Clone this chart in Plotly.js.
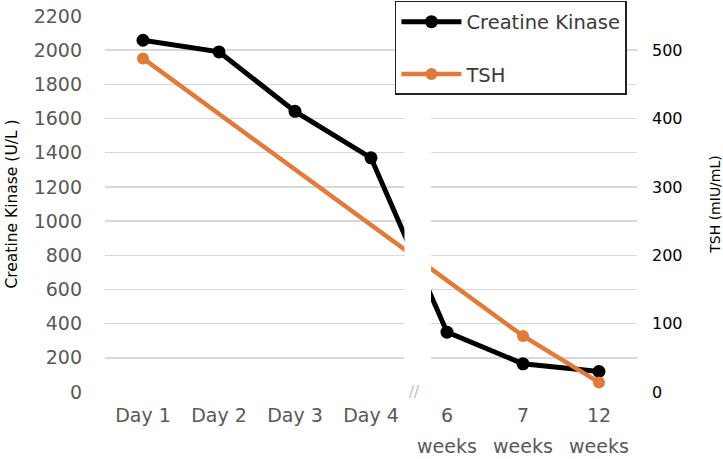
<!DOCTYPE html>
<html>
<head>
<meta charset="utf-8">
<script src="https://cdn.plot.ly/plotly-3.0.1.min.js"></script>
<style>
  html, body { margin: 0; padding: 0; background: #ffffff; }
  #chart { width: 723px; height: 459px; }
</style>
</head>
<body>
<div id="chart"></div>
<script>
// ---- data ----
const categories = ["Day 1", "Day 2", "Day 3", "Day 4", "6 weeks", "7 weeks", "12 weeks"];
const tickLabels = ["Day 1", "Day 2", "Day 3", "Day 4", "6", "7", "12"];
const tickSubLabels = ["", "", "", "", "weeks", "weeks", "weeks"];
const creatineKinase = [2058, 1990, 1642, 1370, 350, 165, 120];
const tsh = [488, null, null, null, null, 82, 14];
const ckTicks = [0, 200, 400, 600, 800, 1000, 1200, 1400, 1600, 1800, 2000, 2200];
const tshTicks = [0, 100, 200, 300, 400, 500];

const FONT = "DejaVu Sans, Liberation Sans, Arial, sans-serif";

const traces = [
  {
    x: categories, y: creatineKinase, name: "Creatine Kinase",
    type: "scatter", mode: "lines+markers",
    line: { color: "#000000", width: 5 },
    marker: { color: "#000000", size: 13 },
    legendgroup: "a", yaxis: "y"
  },
  {
    x: categories, y: tsh, name: "TSH",
    type: "scatter", mode: "lines+markers", connectgaps: true,
    line: { color: "#E07B3B", width: 4.5 },
    marker: { color: "#E07B3B", size: 12 },
    legendgroup: "b", yaxis: "y2"
  }
];

// second line of the week tick labels
const subAnnotations = categories.map((c, i) => ({
  text: tickSubLabels[i], xref: "x", yref: "paper", x: c, y: 0,
  yanchor: "middle", yshift: -54, showarrow: false,
  font: { family: FONT, size: 19, color: "#595959" }
})).filter(a => a.text !== "");

const layout = {
  width: 723, height: 459,
  margin: { l: 105, r: 86, t: 16, b: 67, autoexpand: false },
  paper_bgcolor: "#ffffff", plot_bgcolor: "#ffffff",
  font: { family: FONT, color: "#595959" },
  showlegend: true,
  legend: {
    x: 0.545, y: 1.04, xanchor: "left", yanchor: "top",
    bgcolor: "#ffffff", bordercolor: "#222222", borderwidth: 1.5,
    font: { family: FONT, size: 19.5, color: "#3a3a3a" },
    itemwidth: 60, traceorder: "grouped", tracegroupgap: 24
  },
  xaxis: {
    type: "category",
    tickvals: categories, ticktext: tickLabels,
    showgrid: false, zeroline: false, showline: false,
    ticks: "", ticklabelstandoff: 10,
    tickfont: { family: FONT, size: 19, color: "#595959" },
    range: [-0.5, 6.5], fixedrange: true
  },
  yaxis: {
    range: [0, 2200], tickvals: ckTicks,
    showgrid: true, gridcolor: "#d9d9d9", gridwidth: 1.5,
    zeroline: false, showline: false, ticks: "",
    ticklabelstandoff: 22,
    tickfont: { family: FONT, size: 19, color: "#595959" },
    title: { text: "Creatine Kinase (U/L )", standoff: 12,
             font: { family: FONT, size: 15.5, color: "#000000" } },
    automargin: false
  },
  yaxis2: {
    overlaying: "y", side: "right",
    range: [0, 550], tickvals: tshTicks,
    showgrid: false, zeroline: false, showline: false, ticks: "",
    ticklabelstandoff: 14,
    tickfont: { family: FONT, size: 16, color: "#000000" },
    title: { text: "TSH (mIU/mL)", standoff: 31,
             font: { family: FONT, size: 14, color: "#000000" } },
    automargin: false
  },
  shapes: [
    { type: "rect", xref: "x", yref: "paper", x0: 3.44, x1: 3.79, y0: -0.03, y1: 1.02,
      fillcolor: "#ffffff", line: { width: 0 }, layer: "above" }
  ],
  annotations: [
    { text: "//", xref: "x", yref: "y", x: 3.57, y: 0, showarrow: false,
      font: { family: FONT, size: 15, color: "#c0c0c0" } }
  ].concat(subAnnotations)
};

Plotly.newPlot("chart", traces, layout, { displayModeBar: false, staticPlot: true });
</script>
</body>
</html>
